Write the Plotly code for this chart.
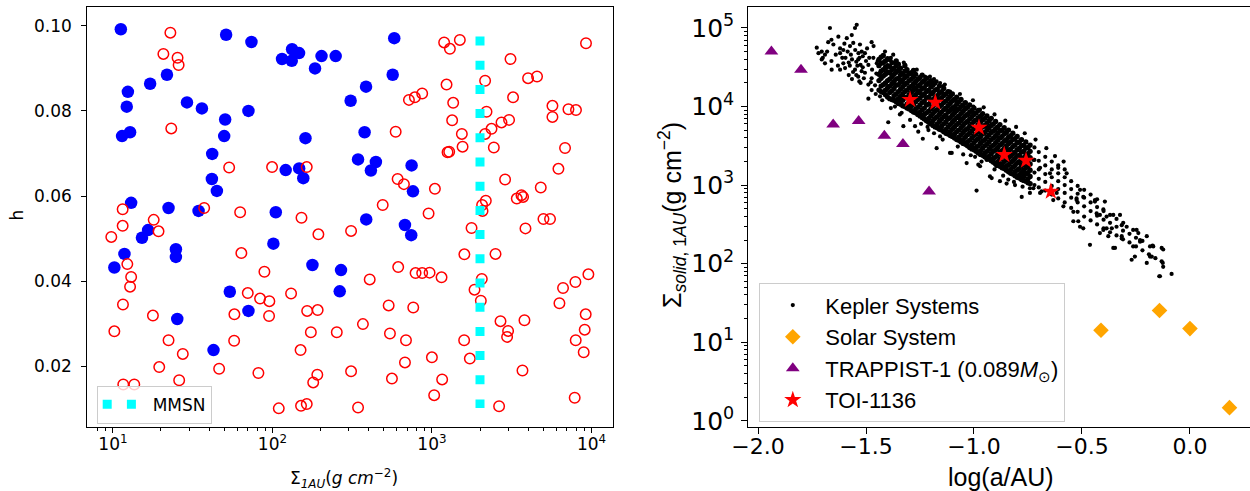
import plotly.graph_objects as go

# ---------------- Left panel data: Sigma_1AU (g cm^-2) vs h ----------------
blue_sigma = [11.2, 51.2, 73.8, 114.8, 132.7, 132.1, 146.8, 184.8, 203, 249, 580, 567, 386, 309,
              21.8, 17.1, 12.4, 12.2, 29.1, 36.1, 70.7, 50.5, 11.4, 12.8, 49.8, 161, 41.9, 121,
              147, 156, 41.7, 44.8, 13.0, 22.3, 34.4, 104.9, 15.2, 16.6, 101.3, 24.8, 24.8, 11.8,
              10.2, 178, 54.0, 70.7, 25.3, 42.7, 378, 344, 445, 414, 745, 760, 387, 677, 741, 269, 264]
blue_h = [0.0992, 0.0979, 0.0962, 0.0922, 0.0945, 0.0918, 0.0936, 0.0900, 0.0929, 0.0929, 0.0971,
          0.0885, 0.0857, 0.0824, 0.0885, 0.0864, 0.0845, 0.0810, 0.0820, 0.0806, 0.0800, 0.0780,
          0.0741, 0.0750, 0.0741, 0.0736, 0.0699, 0.0661, 0.0665, 0.0642, 0.0640, 0.0612, 0.0584,
          0.0572, 0.0565, 0.0562, 0.0502, 0.0520, 0.0488, 0.0475, 0.0457, 0.0464, 0.0432, 0.0438,
          0.0375, 0.0330, 0.0311, 0.0238, 0.0750, 0.0686, 0.0680, 0.0660, 0.0672, 0.0611, 0.0545,
          0.0532, 0.0508, 0.0426, 0.0376]

red_points = [
    (22.9, 0.0984), (20.7, 0.0934), (25.4, 0.0925), (25.8, 0.0908), (23.2, 0.0759), (53.5, 0.0667),
    (99.4, 0.0668), (164, 0.0668), (11.5, 0.0569), (37.3, 0.0572), (62.7, 0.0562), (152, 0.0549),
    (18.0, 0.0544), (11.5, 0.0530), (19.3, 0.0517), (9.76, 0.0504), (194, 0.0510), (63.8, 0.0466),
    (1192, 0.0961), (1295, 0.0946), (1495, 0.0967), (9239, 0.0959), (3106, 0.0922), (2153, 0.0871),
    (4003, 0.0877), (4557, 0.0881), (1234, 0.0862), (717, 0.0826), (781, 0.0832), (868, 0.0841),
    (1358, 0.0819), (3224, 0.0832), (5691, 0.0812), (5691, 0.0786), (7170, 0.0804), (7996, 0.0802),
    (2197, 0.0798), (1338, 0.0778), (2728, 0.0773), (3043, 0.0779), (592, 0.0751), (1539, 0.0746),
    (2362, 0.0758), (2153, 0.0746), (2442, 0.0714), (1555, 0.0716), (1252, 0.0703), (1282, 0.0704),
    (6826, 0.0713), (6205, 0.0664), (609, 0.0640), (667, 0.0628), (1043, 0.0617), (2873, 0.0639),
    (4808, 0.0620), (3401, 0.0594), (3639, 0.0602), (3725, 0.0598), (491, 0.0579), (952, 0.0559),
    (2175, 0.0589), (2074, 0.0565), (2062, 0.0579), (4999, 0.0546), (5496, 0.0546), (1770, 0.0525),
    (3856, 0.0524), (311, 0.0518), (1596, 0.0463), (2502, 0.0464),
    (12.3, 0.0440), (13.0, 0.0410), (12.8, 0.0387), (11.55, 0.0345), (10.2, 0.0282), (17.8, 0.0319),
    (22.3, 0.0261), (27.4, 0.0229), (19.5, 0.0198), (26.0, 0.0167), (11.6, 0.0157), (13.6, 0.0157),
    (46.3, 0.0194), (89.0, 0.0422), (70.0, 0.0372), (57.7, 0.0322), (57.5, 0.0260), (83.6, 0.0359),
    (95.6, 0.0353), (95.2, 0.0318), (130.8, 0.0371), (81.6, 0.0184), (109.5, 0.0101), (151, 0.0107),
    (164, 0.0111), (150, 0.0238), (174, 0.0280), (165, 0.0330), (192, 0.0332), (180, 0.0162),
    (191, 0.0180),
    (2053, 0.0405), (1848, 0.0380), (2024, 0.0354), (614, 0.0433), (789, 0.0419), (868, 0.0419),
    (966, 0.0420), (1148, 0.0409), (407, 0.0404), (535, 0.0343), (763, 0.0338), (369, 0.0299),
    (253, 0.0280), (545, 0.0277), (687, 0.0261), (999, 0.0221), (677, 0.0209), (1727, 0.0218),
    (1591, 0.0261), (2689, 0.0306), (3000, 0.0283), (2957, 0.0269), (3800, 0.0308), (6295, 0.0348),
    (6631, 0.0384), (7928, 0.0398), (9563, 0.0416), (9199, 0.0322), (9067, 0.0286), (7963, 0.0261),
    (8938, 0.0233), (3693, 0.0190), (311, 0.0188), (561, 0.0171), (1158, 0.0169), (1032, 0.0132),
    (2635, 0.0106), (7848, 0.0126), (344, 0.0103),
]

mmsn_sigma = 2000
mmsn_h = [0.0975, 0.0102]

# ---------------- Right panel data: log(a/AU) vs log Sigma_solid,1AU ----------------
kepler_sparse = [
    (-1.667, 5.00), (-1.543, 5.04), (-1.551, 5.00), (-1.566, 4.91), (-1.589, 4.87), (-1.628, 4.89),
    (-1.728, 4.75), (-1.705, 4.70), (-1.675, 4.82), (-1.651, 4.79), (-1.690, 4.66), (-1.705, 4.60),
    (-1.659, 4.47), (-1.620, 4.47), (-1.597, 4.49), (-1.605, 4.55), (-1.620, 4.68), (-1.605, 4.72),
    (-1.574, 4.77), (-1.559, 4.81), (-1.528, 4.79), (-1.474, 4.82), (-1.505, 4.68), (-1.536, 4.60),
    (-1.551, 4.47), (-1.536, 4.38), (-1.531, 4.32), (-1.489, 4.53), (-1.450, 4.55), (-1.412, 4.70),
    (-1.374, 4.66), (-1.412, 4.51), (-1.435, 4.43), (-1.474, 4.36), (-1.489, 4.28), (-1.474, 4.21),
    (-1.489, 4.10), (-1.435, 4.13), (-1.397, 4.26), (-1.358, 4.43), (-1.366, 4.55), (-1.319, 4.53),
    (-1.343, 4.45), (-1.312, 4.38), (-1.327, 4.30), (-1.296, 4.41), (-1.258, 4.34), (-1.219, 4.36),
    (-1.196, 4.30), (-1.281, 4.26), (-1.250, 4.17), (-1.343, 4.06), (-1.366, 4.00), (-1.397, 3.80),
    (-1.327, 3.75), (-1.296, 3.83), (-1.343, 3.90), (-1.273, 3.75), (-1.258, 3.68), (-1.211, 3.70),
    (-1.237, 3.59), (-1.173, 3.47), (-1.157, 3.62), (-1.103, 3.41), (-1.050, 3.39), (-1.034, 3.28),
    (-0.995, 3.36), (-0.972, 3.24), (-0.926, 3.45), (-0.941, 3.32), (-0.895, 3.24), (-1.126, 3.83),
    (-1.096, 3.96), (-1.080, 4.07), (-1.042, 4.04), (-1.003, 4.00), (-1.019, 3.92), (-1.111, 4.19),
    (-1.142, 4.26), (-1.173, 4.32), (-1.204, 4.38), (-1.227, 4.38),
    (-0.988, 2.93), (-0.980, 3.26), (-0.918, 3.09), (-0.880, 3.05), (-0.841, 3.07), (-0.810, 3.00),
    (-0.779, 2.85), (-0.741, 2.96), (-0.687, 2.92), (-0.617, 2.90), (-0.586, 2.73), (-0.540, 2.66),
    (-0.517, 2.54), (-0.494, 2.45), (-0.540, 2.54), (-0.463, 2.24), (-0.417, 2.39), (-0.386, 2.45),
    (-0.378, 2.35), (-0.347, 2.20), (-0.316, 2.49), (-0.293, 2.47), (-0.324, 2.62), (-0.355, 2.62),
    (-0.417, 2.62), (-0.440, 2.81), (-0.401, 2.69), (-0.509, 2.94), (-0.494, 2.85), (-0.525, 2.83),
    (-0.263, 2.43), (-0.239, 2.39), (-0.231, 2.30), (-0.200, 2.35), (-0.263, 2.22), (-0.255, 2.09),
    (-0.270, 2.05), (-0.177, 2.09), (-0.170, 2.22), (-0.200, 2.01), (-0.131, 2.03), (-0.124, 1.96),
    (-0.139, 1.84), (-0.085, 1.87), (-0.124, 2.18), (-0.316, 2.32), (-0.362, 2.45), (-0.231, 2.28),
    (-0.173, 2.23), (-0.185, 2.09), (-0.126, 2.01), (-0.142, 1.84),
    (-0.633, 2.81), (-0.509, 2.47), (-0.525, 2.81), (-0.440, 2.79), (-0.394, 2.79), (-0.432, 2.64),
    (-0.386, 2.60), (-0.401, 2.43), (-0.309, 2.52), (-0.316, 2.35), (-0.247, 2.43), (-0.185, 2.22),
    (-0.131, 2.20), (-0.355, 2.20), (-0.610, 3.22), (-0.571, 3.15), (-0.648, 3.15), (-0.694, 3.22),
    (-0.725, 3.32), (-0.787, 3.36), (-0.849, 3.47), (-0.895, 3.62), (-0.941, 3.75), (-0.926, 3.83),
    (-0.972, 3.96), (-0.741, 2.90), (-0.694, 2.90), (-0.725, 2.96), (-0.849, 3.02), (-0.926, 3.11),
    (-1.111, 3.41), (-1.065, 3.83), (-1.111, 4.18), (-1.096, 4.09), (-1.157, 4.30),
    (-1.70, 4.62), (-1.68, 4.70), (-1.66, 4.58), (-1.64, 4.66), (-1.63, 4.52), (-1.61, 4.62),
    (-1.60, 4.80), (-1.58, 4.56), (-1.57, 4.66), (-1.56, 4.44), (-1.55, 4.72), (-1.54, 4.52),
    (-1.53, 4.62), (-1.52, 4.45), (-1.52, 4.70), (-1.51, 4.36), (-1.50, 4.58), (-1.58, 4.40),
    (-1.62, 4.74), (-1.66, 4.85), (-1.69, 4.55), (-1.72, 4.68),
    (-1.595, 4.62), (-1.585, 4.70), (-1.575, 4.52), (-1.565, 4.60), (-1.545, 4.57), (-1.535, 4.68),
    (-1.525, 4.53), (-1.515, 4.64), (-1.505, 4.43), (-1.495, 4.74), (-1.485, 4.62), (-1.515, 4.50),
    (-1.545, 4.40), (-1.565, 4.35), (-1.525, 4.30), (-1.465, 4.77), (-1.455, 4.16), (-1.425, 4.08),
    (-1.385, 3.98), (-1.335, 3.92), (-1.245, 3.78), (-1.215, 3.74), (-1.185, 3.66), (-1.145, 3.58),
    (-1.075, 3.49), (-1.015, 3.38), (-0.965, 3.30), (-0.905, 3.20), (-0.865, 3.12), (-0.815, 3.04),
    (-0.775, 2.98), (-1.385, 4.62), (-1.325, 4.56), (-1.265, 4.47), (-1.185, 4.35), (-1.135, 4.28),
    (-1.065, 4.16), (-1.005, 4.08), (-0.955, 3.99), (-0.905, 3.90), (-0.855, 3.82), (-0.805, 3.74),
    (-0.765, 3.66), (-0.715, 3.58), (-0.665, 3.47), (-0.625, 3.37), (-0.585, 3.30),
    (-1.478, 4.31), (-1.472, 4.47), (-1.466, 4.62), (-1.458, 4.27), (-1.452, 4.42), (-1.446, 4.58),
]

# dense core of the Kepler cloud: (log a, [log Sigma values])
kepler_core = [
    (-1.44, [4.21, 4.33, 4.41, 4.52, 4.60]),
    (-1.43, [4.19, 4.26, 4.36, 4.45, 4.55, 4.63]),
    (-1.42, [4.18, 4.28, 4.39, 4.47, 4.56, 4.65]),
    (-1.41, [4.15, 4.21, 4.30, 4.41, 4.49, 4.58]),
    (-1.40, [4.12, 4.24, 4.33, 4.44, 4.52, 4.61]),
    (-1.39, [4.10, 4.18, 4.26, 4.35, 4.43, 4.51, 4.60]),
    (-1.38, [4.09, 4.20, 4.29, 4.38, 4.47, 4.56]),
    (-1.37, [4.08, 4.14, 4.23, 4.32, 4.41, 4.49]),
    (-1.36, [4.06, 4.16, 4.27, 4.35, 4.44, 4.52, 4.58]),
    (-1.35, [4.04, 4.10, 4.19, 4.28, 4.36, 4.46, 4.54]),
    (-1.34, [4.03, 4.13, 4.22, 4.31, 4.40, 4.49]),
    (-1.33, [4.01, 4.08, 4.16, 4.25, 4.34, 4.42]),
    (-1.32, [4.00, 4.11, 4.19, 4.28, 4.37, 4.45, 4.52]),
    (-1.31, [3.98, 4.03, 4.12, 4.21, 4.30, 4.39, 4.47]),
    (-1.30, [3.97, 4.06, 4.15, 4.24, 4.33, 4.42]),
    (-1.29, [3.95, 4.01, 4.09, 4.18, 4.26, 4.35, 4.43]),
    (-1.28, [3.93, 4.03, 4.12, 4.21, 4.29, 4.38, 4.46]),
    (-1.27, [3.92, 3.97, 4.06, 4.15, 4.23, 4.32, 4.41]),
    (-1.26, [3.90, 3.99, 4.09, 4.18, 4.26, 4.35]),
    (-1.25, [3.88, 3.93, 4.02, 4.11, 4.20, 4.28, 4.37]),
    (-1.24, [3.86, 3.96, 4.05, 4.14, 4.23, 4.31, 4.40]),
    (-1.23, [3.84, 3.90, 3.98, 4.07, 4.16, 4.24, 4.33]),
    (-1.22, [3.82, 3.92, 4.02, 4.11, 4.19, 4.28, 4.36]),
    (-1.21, [3.80, 3.85, 3.94, 4.03, 4.12, 4.21, 4.30]),
    (-1.20, [3.78, 3.88, 3.97, 4.07, 4.16, 4.25, 4.33]),
    (-1.19, [3.76, 3.82, 3.91, 4.00, 4.09, 4.18, 4.27]),
    (-1.18, [3.74, 3.85, 3.94, 4.03, 4.12, 4.21, 4.30]),
    (-1.17, [3.73, 3.78, 3.87, 3.96, 4.05, 4.14, 4.22]),
    (-1.16, [3.71, 3.81, 3.90, 4.00, 4.09, 4.17, 4.26]),
    (-1.15, [3.70, 3.75, 3.84, 3.93, 4.02, 4.11, 4.19]),
    (-1.14, [3.68, 3.78, 3.87, 3.96, 4.05, 4.14, 4.23]),
    (-1.13, [3.66, 3.71, 3.80, 3.89, 3.98, 4.07, 4.16]),
    (-1.12, [3.65, 3.74, 3.84, 3.93, 4.01, 4.10, 4.19]),
    (-1.11, [3.63, 3.68, 3.77, 3.86, 3.95, 4.04, 4.13]),
    (-1.10, [3.62, 3.71, 3.80, 3.89, 3.98, 4.07, 4.16]),
    (-1.09, [3.60, 3.65, 3.74, 3.83, 3.92, 4.00, 4.09]),
    (-1.08, [3.58, 3.68, 3.77, 3.86, 3.95, 4.03, 4.12]),
    (-1.07, [3.57, 3.61, 3.70, 3.79, 3.88, 3.97, 4.06]),
    (-1.06, [3.55, 3.64, 3.73, 3.82, 3.91, 4.00, 4.09]),
    (-1.05, [3.53, 3.58, 3.67, 3.76, 3.85, 3.94, 4.02]),
    (-1.04, [3.52, 3.61, 3.70, 3.79, 3.88, 3.97, 4.05]),
    (-1.03, [3.50, 3.55, 3.64, 3.72, 3.81, 3.90, 3.99]),
    (-1.02, [3.48, 3.57, 3.66, 3.75, 3.84, 3.93, 4.02]),
    (-1.01, [3.46, 3.51, 3.60, 3.69, 3.78, 3.87, 3.95]),
    (-1.00, [3.45, 3.54, 3.63, 3.72, 3.81, 3.90, 3.98]),
    (-0.99, [3.43, 3.48, 3.57, 3.65, 3.74, 3.83, 3.92]),
    (-0.98, [3.41, 3.50, 3.59, 3.68, 3.77, 3.86, 3.95]),
    (-0.97, [3.39, 3.44, 3.53, 3.62, 3.71, 3.80, 3.88]),
    (-0.96, [3.38, 3.47, 3.56, 3.65, 3.74, 3.83, 3.91]),
    (-0.95, [3.36, 3.41, 3.50, 3.58, 3.67, 3.76, 3.85]),
    (-0.94, [3.34, 3.43, 3.52, 3.61, 3.70, 3.79, 3.88]),
    (-0.93, [3.33, 3.37, 3.46, 3.55, 3.64, 3.73, 3.82]),
    (-0.92, [3.31, 3.40, 3.49, 3.58, 3.67, 3.76, 3.85]),
    (-0.91, [3.29, 3.34, 3.43, 3.51, 3.60, 3.69, 3.78]),
    (-0.90, [3.27, 3.36, 3.45, 3.54, 3.63, 3.72, 3.81]),
    (-0.89, [3.26, 3.30, 3.39, 3.48, 3.57, 3.66, 3.74]),
    (-0.88, [3.24, 3.33, 3.42, 3.51, 3.60, 3.69, 3.77]),
    (-0.87, [3.22, 3.27, 3.36, 3.44, 3.53, 3.62, 3.70]),
    (-0.86, [3.21, 3.30, 3.38, 3.47, 3.56, 3.65, 3.73]),
    (-0.85, [3.19, 3.24, 3.32, 3.41, 3.50, 3.58, 3.67]),
    (-0.84, [3.17, 3.26, 3.35, 3.44, 3.53, 3.61, 3.70]),
    (-0.83, [3.15, 3.20, 3.29, 3.37, 3.46, 3.55, 3.63]),
    (-0.82, [3.14, 3.23, 3.31, 3.40, 3.49, 3.58, 3.66]),
    (-0.81, [3.12, 3.17, 3.25, 3.34, 3.42, 3.51, 3.59]),
    (-0.80, [3.10, 3.19, 3.28, 3.37, 3.45, 3.54, 3.62]),
    (-0.79, [3.09, 3.13, 3.21, 3.30, 3.38, 3.47, 3.55]),
    (-0.78, [3.07, 3.16, 3.25, 3.33, 3.42, 3.50, 3.58]),
    (-0.77, [3.06, 3.11, 3.19, 3.27, 3.35, 3.43, 3.51]),
    (-0.76, [3.05, 3.14, 3.22, 3.30, 3.38, 3.47, 3.55]),
    (-0.75, [3.03, 3.08, 3.16, 3.24, 3.32, 3.40, 3.48]),
    (-0.74, [3.02, 3.11, 3.19, 3.27, 3.35, 3.43, 3.51]),
]

# medium-density part of the cloud
kepler_mid = [
    (-0.72, [3.00, 3.16, 3.32, 3.48]),
    (-0.70, [2.97, 3.08, 3.20, 3.31, 3.42]),
    (-0.67, [2.93, 3.04, 3.14, 3.25, 3.36]),
    (-0.64, [2.88, 2.99, 3.10, 3.20, 3.30]),
    (-0.61, [2.83, 2.95, 3.05, 3.15, 3.25]),
    (-0.58, [2.78, 2.90, 3.00, 3.10, 3.20]),
    (-0.55, [2.71, 2.84, 2.95, 3.05]),
    (-0.52, [2.66, 2.78, 2.89, 2.99]),
    (-0.49, [2.60, 2.73, 2.84, 2.94]),
    (-0.46, [2.55, 2.67, 2.78, 2.88]),
    (-0.43, [2.50, 2.61, 2.72, 2.82]),
    (-0.40, [2.45, 2.56, 2.67]),
    (-0.37, [2.40, 2.52, 2.62]),
    (-0.34, [2.36, 2.47, 2.57]),
    (-0.31, [2.31, 2.42]),
    (-0.28, [2.27, 2.38]),
    (-0.25, [2.22, 2.33]),
    (-0.22, [2.17, 2.29]),
    (-0.19, [2.12]),
    (-0.16, [2.07]),
]

solar_log_a = [-0.412, -0.141, 0.0, 0.183]
solar_sigma = [14.2, 25.3, 14.9, 1.47]

trappist_log_a = [-1.938, -1.801, -1.652, -1.534, -1.415, -1.329, -1.208]
trappist_sigma = [50350, 29400, 5916, 6530, 4245, 3326, 828]

toi_log_a = [-1.296, -1.179, -0.977, -0.860, -0.759, -0.644]
toi_sigma = [12220, 11270, 5393, 2432, 2056, 830]

left_xticks = [10, 100, 1000, 10000]
left_xticklabels = ["10<sup>1</sup>", "10<sup>2</sup>", "10<sup>3</sup>", "10<sup>4</sup>"]
left_yticks = [0.02, 0.04, 0.06, 0.08, 0.10]
left_yticklabels = ["0.02", "0.04", "0.06", "0.08", "0.10"]
right_xticks = [-2.0, -1.5, -1.0, -0.5, 0.0]
right_xticklabels = ["\u22122.0", "\u22121.5", "\u22121.0", "\u22120.5", "0.0"]
right_yticks = [1, 10, 100, 1000, 10000, 100000]
right_yticklabels = ["10<sup>0</sup>", "10<sup>1</sup>", "10<sup>2</sup>", "10<sup>3</sup>",
                     "10<sup>4</sup>", "10<sup>5</sup>"]

# ---------------- build ----------------
red_sigma = [p[0] for p in red_points]
red_h = [p[1] for p in red_points]

kep_x = [p[0] for p in kepler_sparse]
kep_y = [10 ** p[1] for p in kepler_sparse]
for xv, ys in kepler_mid:
    for yv in ys:
        kep_x.append(xv)
        kep_y.append(10 ** yv)
core_x, core_y = [], []
for xv, ys in kepler_core:
    for yv in ys:
        core_x.append(xv)
        core_y.append(10 ** yv)

DEJAVU = "DejaVu Sans"
ARIAL = "Liberation Sans, Arial"

fig = go.Figure()

fig.add_trace(go.Scatter(x=blue_sigma, y=blue_h, mode="markers", xaxis="x", yaxis="y",
                         marker=dict(symbol="circle", size=12.5, color="#0000ff",
                                     line=dict(width=0)),
                         showlegend=False))
fig.add_trace(go.Scatter(x=red_sigma, y=red_h, mode="markers", xaxis="x", yaxis="y",
                         marker=dict(symbol="circle-open", size=10.5, color="#ff0000",
                                     line=dict(width=1.5, color="#ff0000")),
                         showlegend=False))
fig.add_trace(go.Scatter(x=[mmsn_sigma, mmsn_sigma], y=mmsn_h, mode="lines", xaxis="x", yaxis="y",
                         line=dict(color="#00ffff", width=9, dash="9px,15.2px"),
                         name="MMSN", legend="legend2"))

fig.add_trace(go.Scatter(x=core_x, y=core_y, mode="markers", xaxis="x2", yaxis="y2",
                         marker=dict(symbol="circle", size=5.3, color="black", line=dict(width=0)),
                         legendgroup="kepler", showlegend=False))
fig.add_trace(go.Scatter(x=kep_x, y=kep_y, mode="markers", xaxis="x2", yaxis="y2",
                         marker=dict(symbol="circle", size=4.2, color="black", line=dict(width=0)),
                         name="Kepler Systems", legendgroup="kepler", legend="legend"))
fig.add_trace(go.Scatter(x=solar_log_a, y=solar_sigma, mode="markers", xaxis="x2", yaxis="y2",
                         marker=dict(symbol="diamond", size=12, color="#ffa500", line=dict(width=0)),
                         name="Solar System", legend="legend"))
fig.add_trace(go.Scatter(x=trappist_log_a, y=trappist_sigma, mode="markers", xaxis="x2", yaxis="y2",
                         marker=dict(symbol="triangle-up", size=12, color="#800080", line=dict(width=0)),
                         name="TRAPPIST-1 (0.089<i>M</i><sub>\u2299</sub>)", legend="legend"))
fig.add_trace(go.Scatter(x=toi_log_a, y=toi_sigma, mode="markers", xaxis="x2", yaxis="y2",
                         marker=dict(symbol="star", size=13, color="#ff0000", line=dict(width=0)),
                         name="TOI-1136", legend="legend"))

W, H = 1250, 491
def px_x(p):
    return p / W
def px_y(p):
    return 1 - p / H

axis_common = dict(showgrid=False, zeroline=False, showline=True, linecolor="black",
                   linewidth=1.2, ticks="outside", tickcolor="black", tickwidth=1.2,
                   automargin=False)

left_minor = [v * m for v in (1, 10, 100, 1000) for m in range(2, 10) if v * m > 7]
right_minor = [v * m for v in (1, 10, 100, 1000, 10000, 100000) for m in range(2, 10) if v * m < 180000]

fig.update_layout(
    width=W, height=H,
    margin=dict(l=0, r=0, t=0, b=0, autoexpand=False),
    paper_bgcolor="white", plot_bgcolor="white",
    xaxis=dict(**axis_common, type="log", domain=[px_x(87.3), px_x(612.7)], range=[0.839, 4.133],
               tickmode="array", tickvals=left_xticks, ticktext=left_xticklabels, ticklen=5,
               mirror=True, anchor="y", ticklabelstandoff=-4,
               tickfont=dict(family=DEJAVU, size=17, color="black"),
               minor=dict(tickvals=left_minor, ticks="outside", ticklen=3, tickcolor="black",
                          tickwidth=1, showgrid=False)),
    yaxis=dict(**axis_common, domain=[1 - 427.3 / H, 1 - 6.7 / H], range=[0.00565, 0.1045],
               tickmode="array", tickvals=left_yticks, ticktext=left_yticklabels, ticklen=5,
               mirror=True, anchor="x", ticklabelstandoff=6,
               tickfont=dict(family=DEJAVU, size=17, color="black")),
    xaxis2=dict(**axis_common, domain=[px_x(748.3), 1.0], range=[-2.045, 0.278],
                tickmode="array", tickvals=right_xticks, ticktext=right_xticklabels, ticklen=6,
                mirror=True, anchor="y2", ticklabelstandoff=-7,
                tickfont=dict(family=DEJAVU, size=22, color="black")),
    yaxis2=dict(**axis_common, type="log", domain=[1 - 427.3 / H, 1 - 6.7 / H], range=[-0.083, 5.271],
                tickmode="array", tickvals=right_yticks, ticktext=right_yticklabels, ticklen=6,
                mirror=False, anchor="x2", ticklabelstandoff=2,
                tickfont=dict(family=DEJAVU, size=25, color="black"),
                minor=dict(tickvals=right_minor, ticks="outside", ticklen=3, tickcolor="black",
                           tickwidth=1, showgrid=False)),
    legend=dict(x=px_x(759.3), y=px_y(283.3), xanchor="left", yanchor="top",
                bgcolor="rgba(255,255,255,0.8)", bordercolor="#cccccc", borderwidth=1,
                font=dict(family=ARIAL, size=22, color="black"), itemsizing="trace",
                itemwidth=55, tracegroupgap=0),
    legend2=dict(x=px_x(96.7), y=px_y(385.7), xanchor="left", yanchor="top",
                 bgcolor="rgba(255,255,255,0.8)", bordercolor="#cccccc", borderwidth=1,
                 itemwidth=45,
                 font=dict(family=DEJAVU, size=17, color="black")),
    annotations=[
        dict(text="h", x=px_x(16.5), y=px_y(215), xref="paper", yref="paper", showarrow=False,
             textangle=-90, font=dict(family=DEJAVU, size=17, color="black"),
             xanchor="center", yanchor="middle"),
        dict(text="\u03a3<sub><i>1AU</i></sub>(<i>g cm</i><sup>\u22122</sup>)", x=px_x(344),
             y=px_y(478), xref="paper", yref="paper", showarrow=False,
             font=dict(family=DEJAVU, size=17, color="black"), xanchor="center", yanchor="middle"),
        dict(text="\u03a3<sub><i>solid</i>, 1<i>AU</i></sub>(g cm<sup>\u22122</sup>)", x=px_x(672),
             y=px_y(215), xref="paper", yref="paper", showarrow=False, textangle=-90,
             font=dict(family=ARIAL, size=25, color="black"), xanchor="center", yanchor="middle"),
        dict(text="log(a/AU)", x=px_x(1001), y=px_y(477), xref="paper", yref="paper",
             showarrow=False, font=dict(family=ARIAL, size=25, color="black"),
             xanchor="center", yanchor="middle"),
    ],
)

fig.write_html("out.html", config={"displayModeBar": False},
               post_script="document.body.style.margin='0px';")
